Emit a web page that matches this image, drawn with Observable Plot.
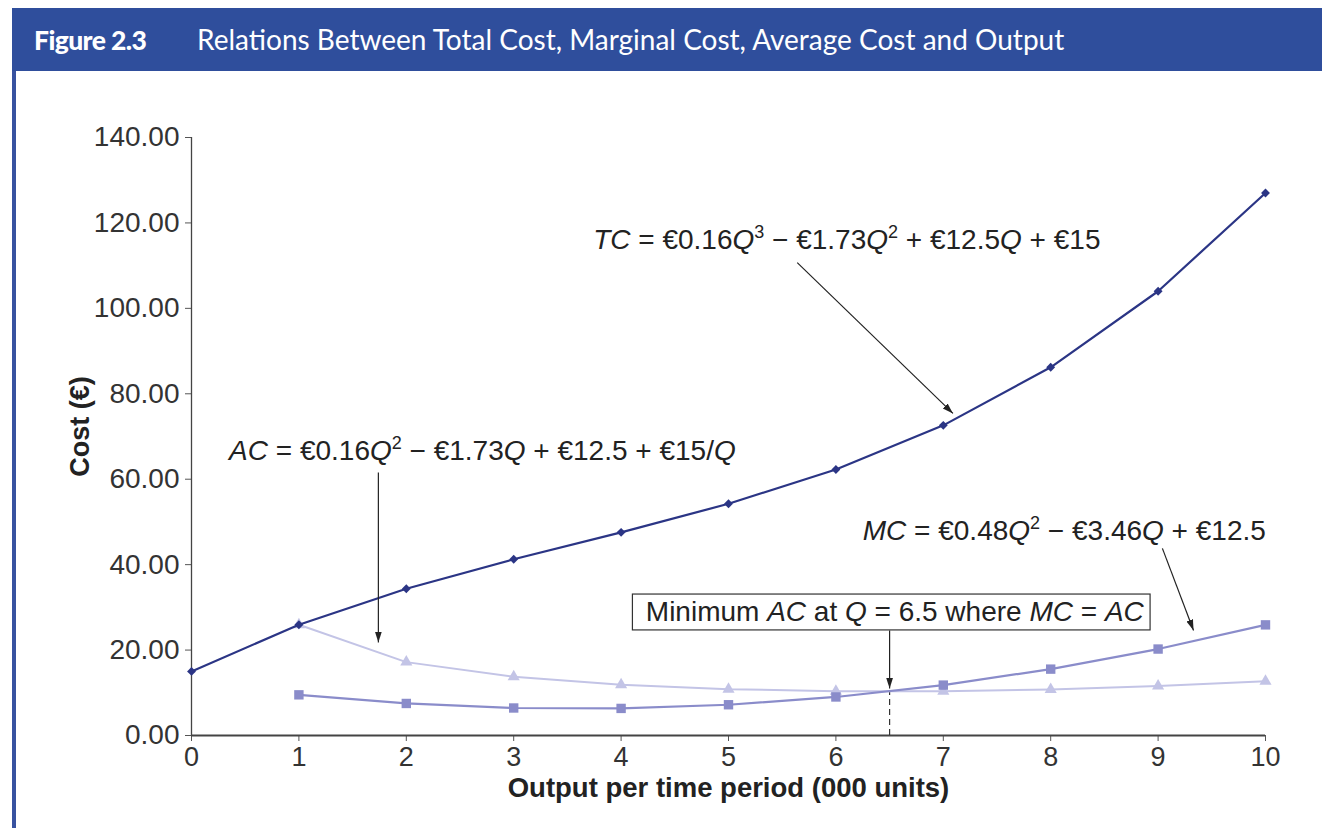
<!DOCTYPE html>
<html><head><meta charset="utf-8">
<script src="https://cdn.jsdelivr.net/npm/d3@7"></script>
<script src="https://cdn.jsdelivr.net/npm/@observablehq/plot@0.6"></script>
<style>
html,body{margin:0;padding:0;background:#fff;}
body{width:1322px;height:828px;overflow:hidden;position:relative;font-family:"Liberation Sans",Arial,sans-serif;}
#header{position:absolute;left:12px;top:8px;width:1310px;height:63px;background:#2f4e9c;color:#fff;font-family:Lato,sans-serif;font-size:28px;line-height:62px;white-space:nowrap;}
#header b{display:inline-block;width:185px;padding-left:22px;box-sizing:border-box;font-weight:900;font-size:26.5px;letter-spacing:-0.6px;}
#stripe{position:absolute;left:12px;top:71px;width:4px;height:757px;background:#3852a0;}
#chart{position:absolute;left:0;top:71px;}
</style></head><body>
<div id="header"><b>Figure 2.3</b><span>Relations Between Total Cost, Marginal Cost, Average Cost and Output</span></div>
<div id="stripe"></div>
<div id="chart"></div>
<script>
// ---- data ----
const output       = [0, 1, 2, 3, 4, 5, 6, 7, 8, 9, 10];
const totalCost    = [15.00, 25.93, 34.36, 41.25, 47.56, 54.25, 62.28, 72.61, 86.20, 104.01, 127.00];
const marginalCost = [null, 9.52, 7.50, 6.44, 6.34, 7.20, 9.02, 11.80, 15.54, 20.24, 25.90];
const averageCost  = [null, 25.93, 17.18, 13.75, 11.89, 10.85, 10.38, 10.37, 10.78, 11.56, 12.70];
const yTicks = [0, 20, 40, 60, 80, 100, 120, 140];
const xTicks = [0, 1, 2, 3, 4, 5, 6, 7, 8, 9, 10];
const yTitle = "Cost (€)";
const xTitle = "Output per time period (000 units)";

// annotations
const annoPlain = [
  "TC = €0.16Q3 − €1.73Q2 + €12.5Q + €15",
  "AC = €0.16Q2 − €1.73Q + €12.5 + €15/Q",
  "MC = €0.48Q2 − €3.46Q + €12.5",
  "Minimum AC at Q = 6.5 where MC = AC"
];
const I = s => `<tspan font-style="italic">${s}</tspan>`;
const UP = s => `<tspan dy="-11" font-size="18">${s}</tspan>`;
const DN = s => `<tspan dy="11">${s}</tspan>`;
const annoRich = [
  `${I("TC")} = €0.16${I("Q")}${UP("3")}${DN(" − €1.73")}${I("Q")}${UP("2")}${DN(" + €12.5")}${I("Q")} + €15`,
  `${I("AC")} = €0.16${I("Q")}${UP("2")}${DN(" − €1.73")}${I("Q")} + €12.5 + €15/${I("Q")}`,
  `${I("MC")} = €0.48${I("Q")}${UP("2")}${DN(" − €3.46")}${I("Q")} + €12.5`,
  `Minimum ${I("AC")} at ${I("Q")} = 6.5 where ${I("MC")} = ${I("AC")}`
];
const annoX = [3.74, 0.35, 6.25, 4.23];
const annoY = [115.9, 66.5, 47.8, 28.8];

// arrows: [x, y]
const arrowFrom = [[5.64, 110.7], [1.74, 61.6], [9.04, 43.8], [6.5, 24.6]];
const arrowTo   = [[7.09, 75.4], [1.74, 21.8], [9.33, 24.6], [6.5, 11.0]];
const boxX = [4.11, 8.93];
const boxY = [24.6, 33.0];
const minQ = 6.5;
const minAC = 10.35;

// ---- build tables ----
const rows = output.map((q, i) => ({q, tc: totalCost[i], mc: marginalCost[i], ac: averageCost[i]}));
const mcRows = rows.filter(d => d.mc != null);
const acRows = rows.filter(d => d.ac != null);
const annos = annoPlain.map((t, i) => ({t, x: annoX[i], y: annoY[i]}));
const arrows = arrowFrom.map((f, i) => ({x1: f[0], y1: f[1], x2: arrowTo[i][0], y2: arrowTo[i][1]}));

const cTC = "#2b3585", cMC = "#8a8cca", cAC = "#c3c4e6";

const plot = Plot.plot({
  width: 1322, height: 757,
  marginLeft: 191, marginRight: 57, marginTop: 66, marginBottom: 93,
  style: {fontFamily: "'Liberation Sans', Arial, sans-serif", fontSize: "27px", color: "#333", background: "transparent"},
  x: {domain: [0, 10]},
  y: {domain: [0, 140]},
  marks: [
    Plot.axisY({ticks: yTicks, tickFormat: d3.format(".2f"), tickSize: 6, tickPadding: 6, label: null, fontSize: 28, stroke: "#555"}),
    Plot.axisX({ticks: xTicks, tickSize: 6, tickPadding: 5, label: null, fontSize: 27, stroke: "#555"}),
    Plot.ruleX([0], {y1: 0, y2: 140, stroke: "#444", strokeWidth: 1.3}),
    Plot.ruleY([0], {stroke: "#444", strokeWidth: 2}),
    Plot.text([yTitle], {frameAnchor: "left", dx: -111, dy: -10, rotate: -90, textAnchor: "middle", fontWeight: "bold", fontSize: 27, fill: "#222"}),
    Plot.text([xTitle], {frameAnchor: "bottom", dy: 61, textAnchor: "middle", fontWeight: "bold", fontSize: 27.5, fill: "#222"}),
    // dashed min line
    Plot.ruleX([minQ], {y1: 0, y2: minAC, stroke: "#333", strokeWidth: 1.2, strokeDasharray: "6,4"}),
    // AC
    Plot.line(acRows, {x: "q", y: "ac", stroke: cAC, strokeWidth: 2}),
    Plot.dot(acRows, {x: "q", y: "ac", symbol: "triangle", r: 4.5, fill: cAC, stroke: "none"}),
    // MC
    Plot.line(mcRows, {x: "q", y: "mc", stroke: cMC, strokeWidth: 2.2}),
    Plot.dot(mcRows, {x: "q", y: "mc", symbol: "square", r: 5.3, fill: cMC, stroke: "none"}),
    // TC
    Plot.line(rows, {x: "q", y: "tc", stroke: cTC, strokeWidth: 2.2}),
    Plot.dot(rows, {x: "q", y: "tc", symbol: "diamond2", r: 4, fill: cTC, stroke: "none"}),
    // box
    Plot.rect([{}], {x1: () => boxX[0], x2: () => boxX[1], y1: () => boxY[0], y2: () => boxY[1], fill: "white", stroke: "#333", strokeWidth: 1.2}),
    // arrows
    Plot.link(arrows, {x1: "x1", y1: "y1", x2: "x2", y2: "y2", stroke: "#222", strokeWidth: 1.2, markerEnd: "arrow", className: "anno-arrow"}),
    // annotation texts
    Plot.text(annos, {x: "x", y: "y", text: "t", textAnchor: "start", fontSize: 28, fill: "#222", className: "anno"})
  ]
});

// rich text (italics / superscripts)
d3.select(plot).selectAll("g.anno text").each(function(d, i) { this.innerHTML = annoRich[i]; });
// filled arrowheads
d3.select(plot).selectAll("marker").each(function() {
  const m = d3.select(this);
  m.attr("viewBox", "-10 -5 10 10").attr("markerWidth", 9).attr("markerHeight", 9).attr("refX", 0).attr("refY", 0)
   .attr("fill", "#222").attr("stroke", "none");
  m.selectAll("*").remove();
  m.append("path").attr("d", "M-10,-3.2L0,0L-10,3.2Z");
});
document.getElementById("chart").appendChild(plot);
</script>
</body></html>
